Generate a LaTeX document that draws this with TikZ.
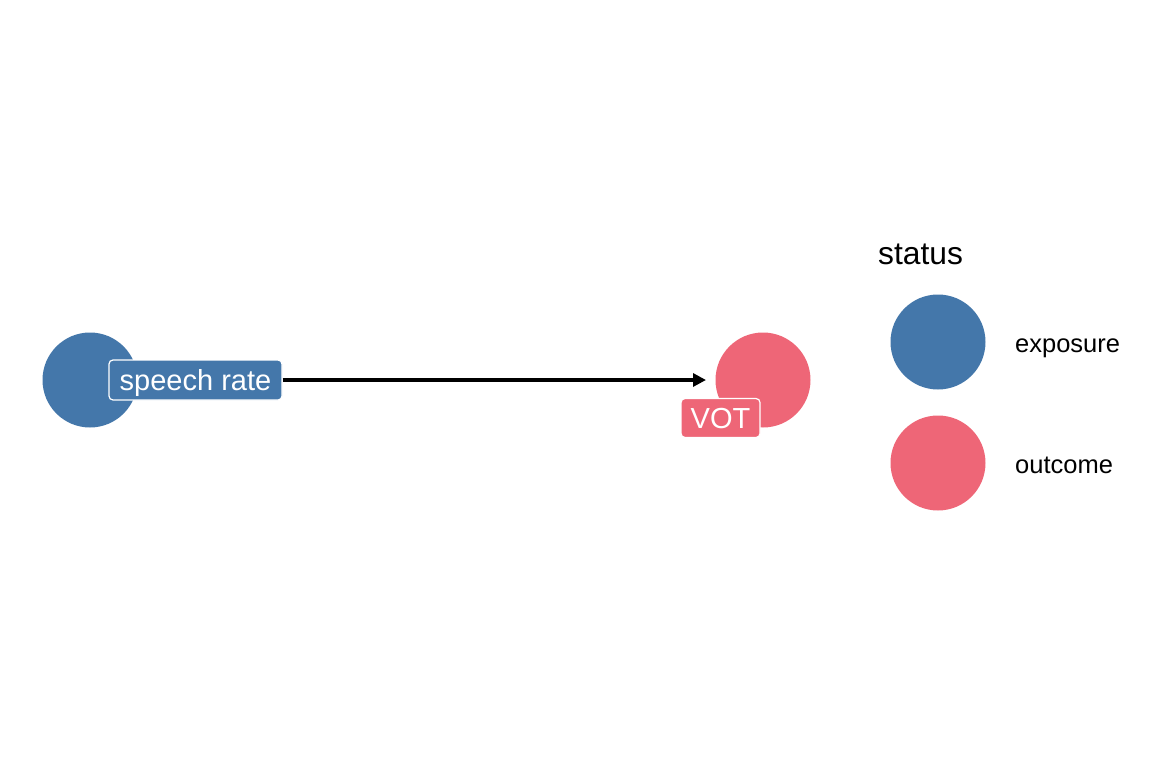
\documentclass[tikz,border=0pt]{standalone}
\usepackage{fontspec}
\setmainfont{Liberation Sans}
\usetikzlibrary{arrows.meta}
\definecolor{expo}{HTML}{4477AA}
\definecolor{outc}{HTML}{EE6677}
\tikzset{
  dot/.style={circle, minimum size=95pt, inner sep=0pt},
  lbl/.style={rounded corners=4pt, draw=white, line width=1.2pt, text=white, inner sep=0pt, text depth=0pt, font=\fontsize{29}{32}\selectfont},
  legtext/.style={anchor=base west, inner sep=0pt, font=\fontsize{25.5}{28}\selectfont},
  conn/.style={line width=3.2pt, -{Triangle[length=13pt,width=13pt]}}
}
\begin{document}
\begin{tikzpicture}[x=1pt,y=-1pt]
\useasboundingbox (0,0) rectangle (1152,768);
\node[dot, fill=expo] (sr) at (90,380) {};
\node[dot, fill=outc] (vot) at (763,380) {};
\node[lbl, fill=expo, minimum width=173pt, minimum height=40pt] (srl) at (195.5,380) {speech rate};
\node[lbl, fill=outc, minimum width=79pt, minimum height=39pt] (votl) at (720.5,418) {VOT};
\coordinate (tip) at (706,380);
\draw[conn] (srl.east) -- (tip);
\node[anchor=base west, inner sep=0pt, font=\fontsize{31.8}{34}\selectfont] (title) at (878,264) {status};
\node[dot, fill=expo] (le) at (938,342) {};
\node[dot, fill=outc] (lo) at (938,463) {};
\node[legtext] (lex) at (1015,352) {exposure};
\node[legtext] (lox) at (1015,473) {outcome};
\end{tikzpicture}
\end{document}
